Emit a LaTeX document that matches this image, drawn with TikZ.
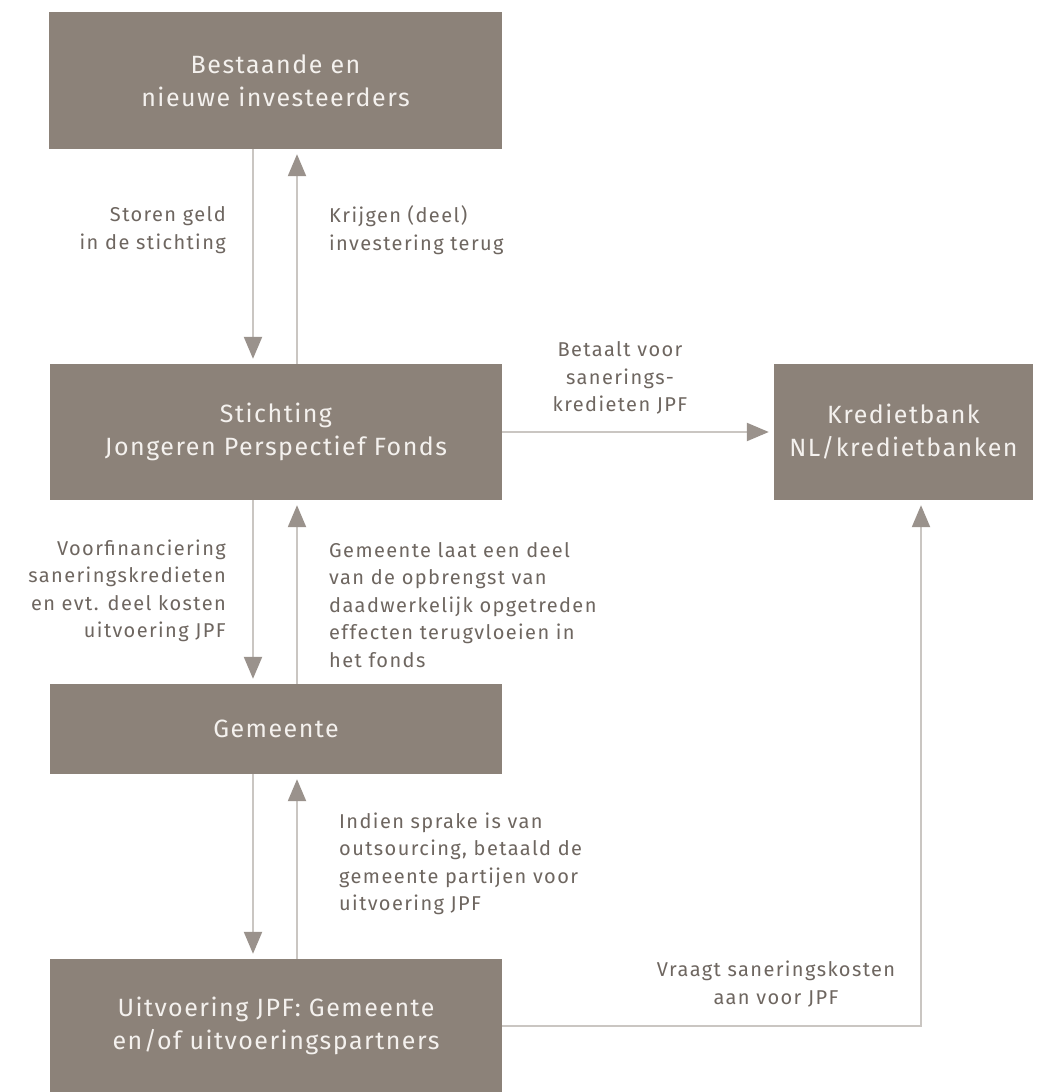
\documentclass[tikz,border=0pt]{standalone}
\usepackage{fontspec}
\setmainfont{Fira Sans}
\newfontfamily\boxfont[LetterSpace=6]{Fira Sans}
\newfontfamily\labfont[LetterSpace=7]{Fira Sans}
\usetikzlibrary{arrows.meta,calc}
\definecolor{boxc}{HTML}{8C8279}
\definecolor{linec}{HTML}{CAC6C2}
\definecolor{tipc}{HTML}{9A928C}
\definecolor{labc}{HTML}{6E6660}
\definecolor{boxtxt}{HTML}{F4F1EE}
\begin{document}
\begin{tikzpicture}[x=1pt,y=-1pt,
  box/.style={fill=boxc,draw=none,inner sep=0pt,align=center,text=boxtxt,
    font=\boxfont\fontsize{25}{33}\selectfont},
  lab/.style={inner sep=0pt,text=labc,font=\labfont\fontsize{20}{27.5}\selectfont},
  arr/.style={draw=linec,line width=2.2pt,
    -{Triangle[width=18pt,length=22pt,color=tipc]},shorten >=5pt},
  lin/.style={draw=linec,line width=2.2pt}]
\useasboundingbox (0,0) rectangle (1038,1092);
\fill[white] (0,0) rectangle (1038,1092);
% boxes
\node[box,minimum width=453pt,minimum height=137pt] (inv) at (275.5,80.5) {Bestaande en\\nieuwe investeerders};
\node[box,minimum width=452pt,minimum height=136pt] (stich) at (276,432) {Stichting\\Jongeren Perspectief Fonds};
\node[box,minimum width=259pt,minimum height=136pt] (kred) at (903.5,432) {Kredietbank\\NL/kredietbanken};
\node[box,minimum width=452pt,minimum height=90pt] (gem) at (276,729) {Gemeente};
\node[box,minimum width=452pt,minimum height=133pt] (uit) at (276,1025.5) {Uitvoering JPF: Gemeente\\en/of uitvoeringspartners};
% x positions
\coordinate (xd) at (253,0);
\coordinate (xu) at (297,0);
\coordinate (corner) at (921,1026);
% connectors
\draw[arr] (inv.south -| xd) -- (stich.north -| xd);
\draw[arr] (stich.north -| xu) -- (inv.south -| xu);
\draw[arr] (stich.south -| xd) -- (gem.north -| xd);
\draw[arr] (gem.north -| xu) -- (stich.south -| xu);
\draw[arr] (gem.south -| xd) -- (uit.north -| xd);
\draw[arr] (uit.north -| xu) -- (gem.south -| xu);
\draw[arr] (stich.east) -- (kred.west);
\draw[arr] (uit.east |- corner) -- (corner) -- (kred.south -| corner);
% labels
\node[lab,align=right,anchor=east] (l1) at (226,230) {Storen geld\\in de stichting};
\node[lab,align=left,anchor=west] (l2) at (329,230) {Krijgen (deel)\\investering terug};
\node[lab,align=center] (l3) at (620,378) {Betaalt voor\\sanerings-\\kredieten JPF};
\node[lab,align=right,anchor=east] (l4) at (226,591) {Voorfinanciering\\saneringskredieten\\en evt. deel kosten\\uitvoering JPF};
\node[lab,align=left,anchor=west] (l5) at (329,605) {Gemeente laat een deel\\van de opbrengst van\\daadwerkelijk opgetreden\\effecten terugvloeien in\\het fonds};
\node[lab,align=left,anchor=west] (l6) at (339,864) {Indien sprake is van\\outsourcing, betaald de\\gemeente partijen voor\\uitvoering JPF};
\node[lab,align=center] (l7) at (776,984) {Vraagt saneringskosten\\aan voor JPF};
\end{tikzpicture}
\end{document}
